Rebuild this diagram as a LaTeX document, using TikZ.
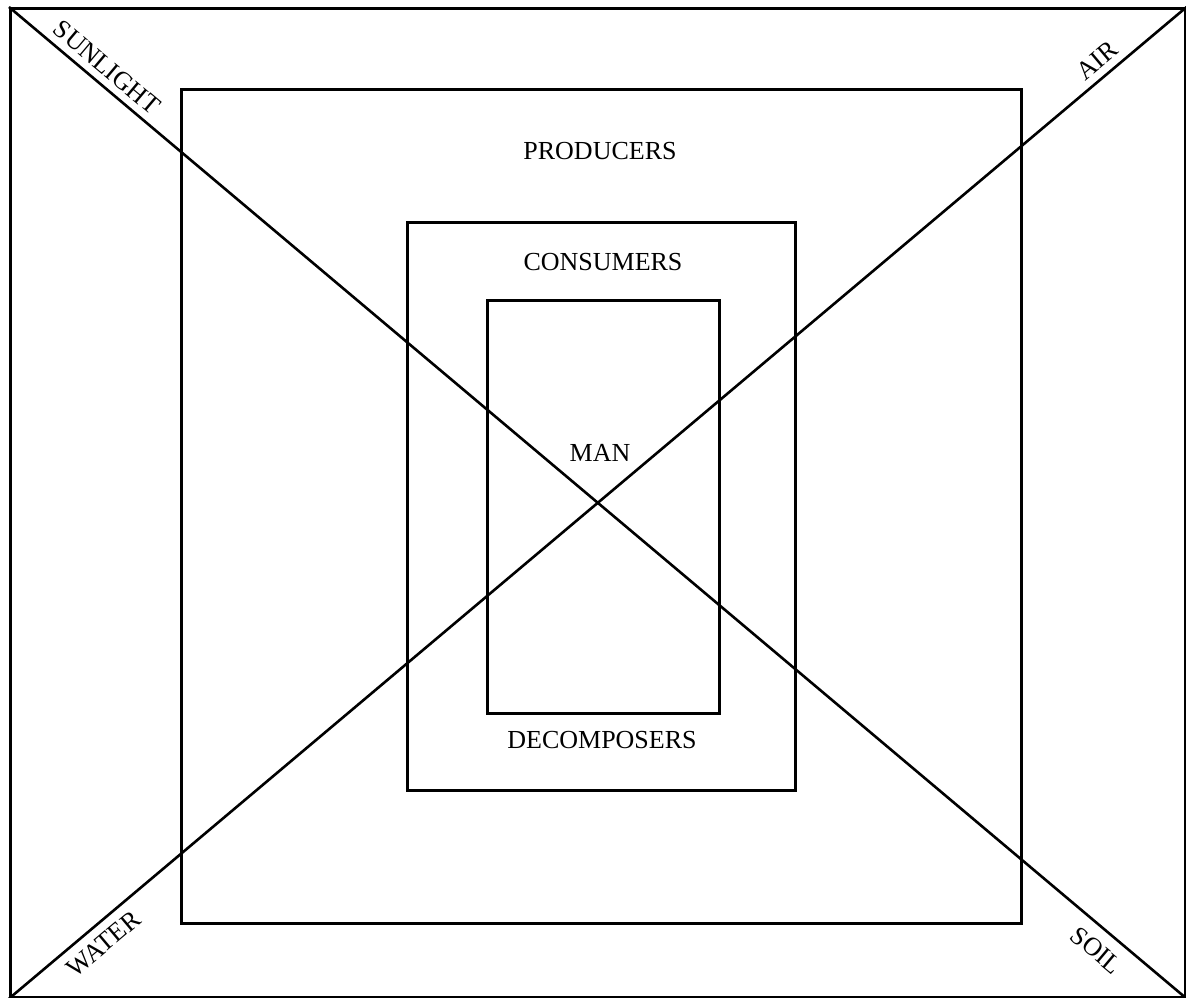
\documentclass[tikz,border=0pt]{standalone}
\usepackage{fontspec}
\setmainfont{Liberation Serif}
\begin{document}
\begin{tikzpicture}[x=1pt,y=-1pt,
  box/.style={draw, line width=2.6pt, inner sep=0pt, anchor=north west},
  lab/.style={font=\fontsize{26}{30}\selectfont, inner sep=0pt},
  diag/.style={line width=2.6pt}]
\useasboundingbox (0,0) rectangle (1186,998);
\node[box, minimum width=1175pt, minimum height=989pt] (outer) at (9,7) {};
\node[box, minimum width=840pt, minimum height=834pt] (producers) at (180,88) {};
\node[box, minimum width=388pt, minimum height=568pt] (consumers) at (406,221) {};
\node[box, minimum width=232pt, minimum height=413pt] (man) at (486,299) {};
\node[lab] (lprod) at (600,151) {PRODUCERS};
\node[lab] (lcons) at (603,262) {CONSUMERS};
\node[lab] (lman) at (600,453) {MAN};
\node[lab] (ldec) at (602,740) {DECOMPOSERS};
\draw[diag] (outer.north west) -- (outer.south east)
  node[lab, pos=0.074, sloped, above=7pt] (sun) {SUNLIGHT}
  node[lab, pos=0.935, sloped, below=11pt] (soil) {SOIL};
\draw[diag] (outer.south west) -- (outer.north east)
  node[lab, pos=0.07, sloped, below=9pt] (water) {WATER}
  node[lab, pos=0.933, sloped, above=7pt] (air) {AIR};
\end{tikzpicture}
\end{document}
